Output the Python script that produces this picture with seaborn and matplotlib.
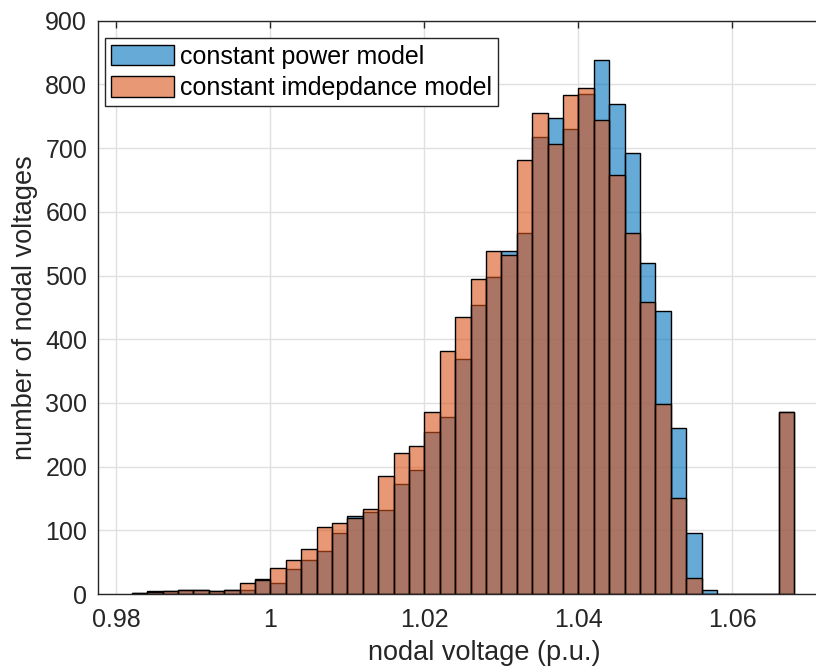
import numpy as np
import matplotlib
matplotlib.use("Agg")
import matplotlib.pyplot as plt
from matplotlib.patches import Patch
import seaborn as sns

# ---- data ----
bin_left = [0.982, 0.984, 0.986, 0.988, 0.990, 0.992, 0.994, 0.996, 0.998, 1.000,
            1.002, 1.004, 1.006, 1.008, 1.010, 1.012, 1.014, 1.016, 1.018, 1.020,
            1.022, 1.024, 1.026, 1.028, 1.030, 1.032, 1.034, 1.036, 1.038, 1.040,
            1.042, 1.044, 1.046, 1.048, 1.050, 1.052, 1.054, 1.056, 1.058, 1.060,
            1.062, 1.064, 1.066]
bin_width = 0.002

counts_power = [2, 5, 4, 7, 7, 5, 6, 6, 23, 17,
                40, 54, 67, 95, 122, 129, 132, 173, 194, 255,
                278, 369, 453, 497, 538, 567, 717, 748, 730, 785,
                839, 769, 693, 519, 445, 261, 95, 6, 0, 0,
                0, 0, 286]
counts_imped = [1, 3, 5, 6, 7, 5, 6, 17, 22, 41,
                54, 71, 105, 111, 120, 133, 185, 221, 233, 285,
                381, 435, 494, 538, 532, 681, 755, 706, 784, 795,
                744, 658, 567, 459, 299, 151, 25, 0, 0, 0,
                0, 0, 286]

labels = ["constant power model", "constant imdepdance model"]
xticks = [0.98, 1.00, 1.02, 1.04, 1.06]
xtick_labels = ["0.98", "1", "1.02", "1.04", "1.06"]
yticks = [0, 100, 200, 300, 400, 500, 600, 700, 800, 900]

# ---- styling ----
sns.set_style("white")
plt.rcParams["font.family"] = ["Liberation Sans", "DejaVu Sans"]
txt = "#262626"

blue = (0.0, 0.447, 0.741)
orange = (0.85, 0.325, 0.098)
fa = 0.6

W, H = 816, 668
fig = plt.figure(figsize=(W / 100, H / 100), dpi=100)
left_px, right_px, top_px, bot_px = 98.3, 870.0, 20.7, 594.0
px_per_unit = 7700.0  # 0.02 of voltage ~ 154 px
ax = fig.add_axes([left_px / W, 1 - bot_px / H,
                   (right_px - left_px) / W, (bot_px - top_px) / H])

edges = list(bin_left) + [bin_left[-1] + bin_width]
centers = [b + bin_width / 2 for b in bin_left]

for counts, col in [(counts_power, blue), (counts_imped, orange)]:
    sns.histplot(x=centers, weights=counts, bins=edges, ax=ax,
                 stat="count", element="bars", fill=True,
                 facecolor=(*col, fa), edgecolor="black", linewidth=1.0,
                 zorder=3)

x0 = 0.98 - (116.3 - left_px) / px_per_unit
x1 = x0 + (right_px - left_px) / px_per_unit
ax.set_xlim(x0, x1)
ax.set_ylim(0, 900)
ax.set_xticks(xticks)
ax.set_xticklabels(xtick_labels)
ax.set_yticks(yticks)

ax.set_axisbelow(True)
ax.grid(True, color="#e0e0e0", linewidth=1.0, zorder=0)

ax.tick_params(axis="both", direction="in", length=5, width=1.0,
               colors=txt, labelsize=18, top=True, right=True)
ax.tick_params(axis="x", pad=10)
ax.tick_params(axis="y", pad=8)
for s in ax.spines.values():
    s.set_color(txt)
    s.set_linewidth(1.0)
    s.set_zorder(5)

ax.set_xlabel("nodal voltage (p.u.)", fontsize=19.5, color=txt, labelpad=6)
ax.set_ylabel("number of nodal voltages", fontsize=19.5, color=txt, labelpad=5)

handles = [Patch(facecolor=(*blue, fa), edgecolor="black", linewidth=1.0),
           Patch(facecolor=(*orange, fa), edgecolor="black", linewidth=1.0)]
leg = ax.legend(handles, labels, loc="upper left",
                bbox_to_anchor=(105 / W, 1 - 38.3 / H), bbox_transform=fig.transFigure,
                borderaxespad=0, fontsize=18, handlelength=2.5, handleheight=0.9,
                handletextpad=0.25, labelspacing=0.3, borderpad=0.25,
                fancybox=False, framealpha=1, frameon=True)
leg.get_frame().set_edgecolor(txt)
leg.get_frame().set_linewidth(1.0)
for t in leg.get_texts():
    t.set_color("black")
leg.set_zorder(10)

fig.savefig("out.png", dpi=100)
